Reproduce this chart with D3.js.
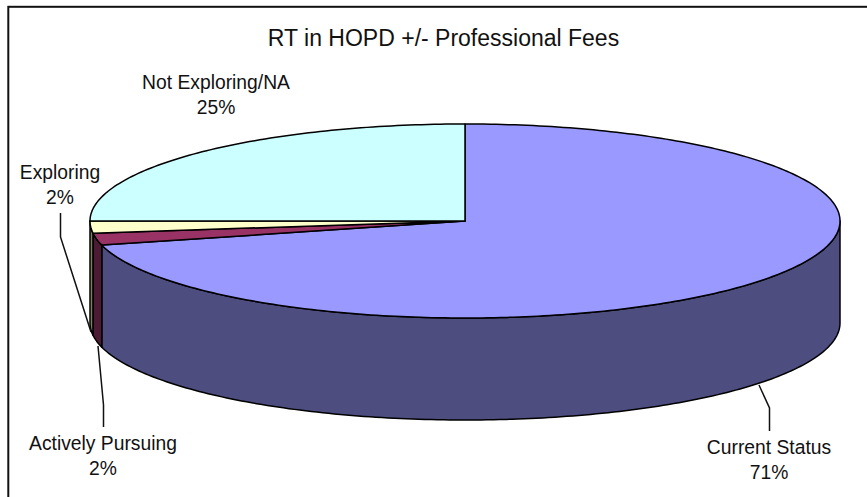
<!DOCTYPE html>
<html>
<head>
<meta charset="utf-8">
<script src="https://cdn.jsdelivr.net/npm/d3@7"></script>
<style>
html, body { margin: 0; padding: 0; background: #fff; overflow: hidden; }
svg { display: block; }
text { font-family: "Liberation Sans", Arial, sans-serif; fill: #111; }
</style>
</head>
<body>
<script>
var chartTitle = 'RT in HOPD +/- Professional Fees';
var categories = ['Current Status', 'Actively Pursuing', 'Exploring', 'Not Exploring/NA'];
var values = [71, 2, 2, 25];
var topColors = ['#9999ff', '#993366', '#ffffcc', '#ccffff'];
var sideColors = ['#4d4d80', '#4d1a33', '#808066', '#668080'];

// label anchors (first line baseline) and leader lines, by category
var labelX = [769, 103, 60, 216];
var labelY = [454, 450, 179, 89];
var leaders = [
    [[769.5, 431], [769.5, 408], [759, 385]],
    [[103.5, 427], [103.5, 405], [98, 346]],
    [[60.5, 213], [60.5, 237], [91, 332]],
    null
];

var width = 867, height = 497;
var cx = 465, cy = 221, rx = 375, ry = 97, depth = 102;

var svg = d3.select('body').append('svg')
    .attr('width', width)
    .attr('height', height);

svg.append('rect')
    .attr('x', 8.3).attr('y', 6.8)
    .attr('width', 880).attr('height', 510)
    .attr('fill', '#fff')
    .attr('stroke', '#111')
    .attr('stroke-width', 2);

var xScale = d3.scaleLinear().domain([-1, 1]).range([cx - rx, cx + rx]);
var yScale = d3.scaleLinear().domain([-1, 1]).range([cy + ry, cy - ry]);

var pie = d3.pie().sort(null).startAngle(0).endAngle(2 * Math.PI);
var arcs = pie(values);

var line = d3.line()
    .x(function(d){ return d[0]; })
    .y(function(d){ return d[1]; });

function rim(a, drop){
    return [xScale(Math.sin(a)), yScale(Math.cos(a)) + drop];
}

function sweep(a0, a1, drop){
    var n = Math.max(2, Math.ceil((a1 - a0) * 60));
    return d3.range(n + 1).map(function(i){
        return rim(a0 + (a1 - a0) * i / n, drop);
    });
}

// outer wall only shows on the front half, from 3 o'clock round to 9 o'clock
var frontStart = Math.PI / 2, frontEnd = 3 * Math.PI / 2;
var walls = arcs.map(function(d, i){
    var a0 = Math.max(d.startAngle, frontStart);
    var a1 = Math.min(d.endAngle, frontEnd);
    return a1 > a0 ? { i: i, a0: a0, a1: a1 } : null;
}).filter(Boolean);

svg.append('g').selectAll('path')
    .data(walls)
    .enter().append('path')
    .attr('d', function(d){
        return line(sweep(d.a0, d.a1, 0).concat(sweep(d.a0, d.a1, depth).reverse())) + 'Z';
    })
    .style('fill', function(d){ return sideColors[d.i]; })
    .style('stroke', '#000')
    .style('stroke-width', 1.5)
    .style('stroke-linejoin', 'round');

svg.append('g').selectAll('path')
    .data(arcs)
    .enter().append('path')
    .attr('d', function(d){
        return line([[cx, cy]].concat(sweep(d.startAngle, d.endAngle, 0))) + 'Z';
    })
    .style('fill', function(d, i){ return topColors[i]; })
    .style('stroke', '#000')
    .style('stroke-width', 1.5)
    .style('stroke-linejoin', 'round');

svg.append('g').selectAll('path')
    .data(leaders.filter(Boolean))
    .enter().append('path')
    .attr('d', line)
    .style('fill', 'none')
    .style('stroke', '#111')
    .style('stroke-width', 1.5);

svg.append('text')
    .attr('x', 443.5).attr('y', 46)
    .attr('text-anchor', 'middle')
    .style('font-size', '23px')
    .text(chartTitle);

var labels = svg.append('g').selectAll('text')
    .data(categories)
    .enter().append('text')
    .attr('text-anchor', 'middle')
    .style('font-size', '19.3px');

labels.append('tspan')
    .attr('x', function(d, i){ return labelX[i]; })
    .attr('y', function(d, i){ return labelY[i]; })
    .text(function(d){ return d; });

labels.append('tspan')
    .attr('x', function(d, i){ return labelX[i]; })
    .attr('y', function(d, i){ return labelY[i] + 25; })
    .text(function(d, i){ return values[i] + '%'; });
</script>
</body>
</html>
